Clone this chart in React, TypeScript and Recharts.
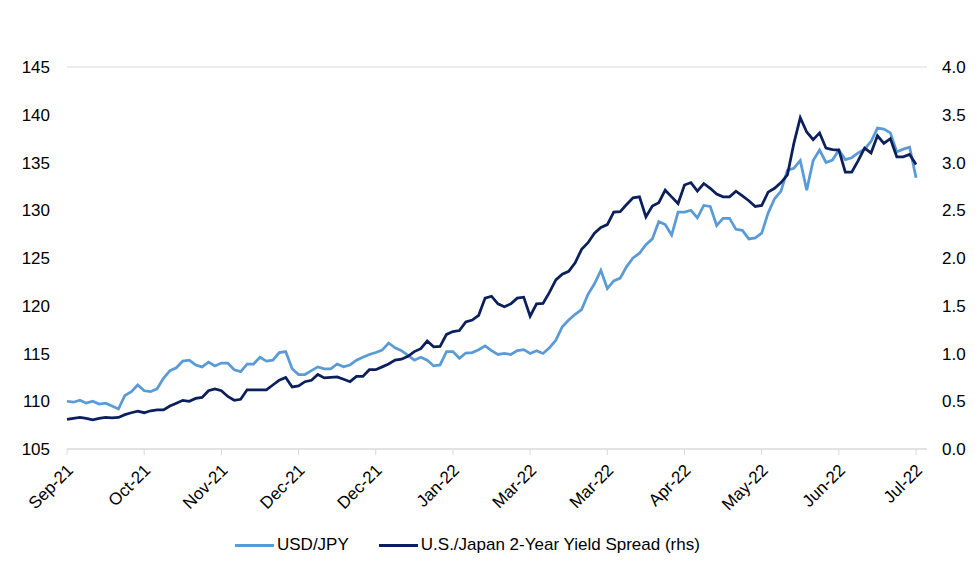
import React from "react";
import { LineChart, Line, XAxis, YAxis, CartesianGrid } from "recharts";

// x tick labels, one every 12 points
const monthLabels = [
  "Sep-21", "Oct-21", "Nov-21", "Dec-21", "Dec-21", "Jan-22",
  "Mar-22", "Mar-22", "Apr-22", "May-22", "Jun-22", "Jul-22",
];

// USD/JPY, lhs
const usdJpy = [
  110.0, 109.9, 110.1, 109.8, 110.0, 109.7, 109.8, 109.5, 109.2, 110.6,
  111.0, 111.7, 111.1, 111.0, 111.3, 112.4, 113.2, 113.5, 114.2, 114.3,
  113.8, 113.6, 114.1, 113.7, 114.0, 114.0, 113.3, 113.1, 113.9, 113.9,
  114.6, 114.2, 114.3, 115.1, 115.2, 113.4, 112.8, 112.8, 113.2, 113.6,
  113.4, 113.4, 113.9, 113.6, 113.8, 114.3, 114.6, 114.9, 115.1, 115.35,
  116.1, 115.6, 115.3, 114.8, 114.3, 114.6, 114.3, 113.7, 113.8, 115.2,
  115.2, 114.5, 115.05, 115.1, 115.4, 115.8, 115.3, 114.9, 115.0, 114.9,
  115.3, 115.4, 115.0, 115.3, 115.0, 115.6, 116.4, 117.8, 118.5, 119.1,
  119.6, 121.2, 122.3, 123.7, 121.8, 122.6, 122.9, 124.1, 125.0, 125.5,
  126.4, 127.0, 128.8, 128.5, 127.4, 129.8, 129.8, 130.0, 129.2, 130.5,
  130.4, 128.4, 129.15, 129.15, 128.0, 127.9, 127.0, 127.1, 127.6, 129.7,
  131.2, 132.0, 134.2, 134.4, 135.2, 132.1, 135.2, 136.3, 135.0, 135.25,
  136.3, 135.3, 135.5, 136.0, 136.4, 137.2, 138.6, 138.5, 138.1, 136.1,
  136.4, 136.6, 133.4,
];

// U.S./Japan 2-year yield spread, rhs
const yieldSpread = [
  0.31, 0.32, 0.33, 0.32, 0.305, 0.32, 0.33, 0.325, 0.33, 0.36,
  0.38, 0.395, 0.38, 0.4, 0.41, 0.41, 0.45, 0.48, 0.51, 0.5,
  0.53, 0.54, 0.61, 0.63, 0.61, 0.55, 0.51, 0.52, 0.62, 0.62,
  0.62, 0.62, 0.67, 0.72, 0.75, 0.65, 0.66, 0.705, 0.72, 0.78,
  0.745, 0.75, 0.755, 0.73, 0.705, 0.76, 0.76, 0.83, 0.83, 0.86,
  0.89, 0.93, 0.94, 0.97, 1.02, 1.05, 1.13, 1.07, 1.075, 1.2,
  1.23, 1.24, 1.33, 1.35, 1.4, 1.58, 1.6, 1.52, 1.49, 1.52,
  1.58, 1.59, 1.39, 1.52, 1.525, 1.64, 1.77, 1.83, 1.86, 1.95,
  2.09, 2.16, 2.26, 2.32, 2.35, 2.48, 2.485, 2.56, 2.63, 2.64,
  2.43, 2.545, 2.58, 2.71, 2.64, 2.57, 2.765, 2.79, 2.7, 2.78,
  2.73, 2.67, 2.64, 2.64, 2.7, 2.65, 2.6, 2.54, 2.55, 2.69,
  2.73, 2.79, 2.87, 3.2, 3.47, 3.32, 3.24, 3.31, 3.15, 3.135,
  3.13, 2.9, 2.9, 3.02, 3.15, 3.1, 3.28, 3.2, 3.25, 3.06,
  3.06, 3.085, 2.98,
];

const leftTicks = [105, 110, 115, 120, 125, 130, 135, 140, 145];
const rightTicks = [0, 0.5, 1, 1.5, 2, 2.5, 3, 3.5, 4];

const LIGHT = "#5b9bd5";
const DARK = "#0b1f5c";
const FONT = "'Liberation Sans', Arial, sans-serif";

const data = usdJpy.map((v, i) => ({ i, usd: v, spread: yieldSpread[i] }));
const xTicks = monthLabels.map((_, k) => k * 12);

function XTick({ x, y, payload }: any) {
  const ax = x + 3;
  const ay = y + 10;
  return (
    <text
      x={ax}
      y={ay}
      transform={`rotate(-45 ${ax} ${ay})`}
      textAnchor="end"
      dy="0.35em"
      fontSize={17}
      fontFamily={FONT}
      fill="#000"
    >
      {monthLabels[Math.round(payload.value / 12)]}
    </text>
  );
}

function LegendItem({ color, label }: { color: string; label: string }) {
  return (
    <div style={{ display: "flex", alignItems: "center" }}>
      <div style={{ width: 39, height: 3, background: color, marginRight: 3 }} />
      <span>{label}</span>
    </div>
  );
}

export default function App() {
  return (
    <div
      style={{
        position: "absolute",
        left: 0,
        top: 0,
        width: 980,
        height: 574,
        background: "#fff",
        fontFamily: FONT,
      }}
    >
      <LineChart
        width={980}
        height={574}
        data={data}
        margin={{ top: 67, right: 0, bottom: 65, left: 0 }}
      >
        <CartesianGrid vertical={false} stroke="#d9d9d9" />
        <XAxis
          dataKey="i"
          type="number"
          domain={[0, 133.7]}
          ticks={xTicks}
          interval={0}
          height={60}
          stroke="#d9d9d9"
          tickSize={6}
          tick={<XTick />}
        />
        <YAxis
          yAxisId="left"
          domain={[105, 145]}
          ticks={leftTicks}
          width={67}
          axisLine={false}
          tickLine={false}
          tickSize={0}
          tickMargin={17}
          tick={{ fontSize: 17, fill: "#000", fontFamily: FONT }}
        />
        <YAxis
          yAxisId="right"
          orientation="right"
          domain={[0, 4]}
          ticks={rightTicks}
          width={53}
          axisLine={false}
          tickLine={false}
          tickSize={0}
          tickMargin={15}
          tickFormatter={(v: number) => v.toFixed(1)}
          tick={{ fontSize: 17, fill: "#000", fontFamily: FONT }}
        />
        <Line
          yAxisId="left"
          dataKey="usd"
          stroke={LIGHT}
          strokeWidth={2.75}
          dot={false}
          type="linear"
          isAnimationActive={false}
        />
        <Line
          yAxisId="right"
          dataKey="spread"
          stroke={DARK}
          strokeWidth={2.75}
          dot={false}
          type="linear"
          isAnimationActive={false}
        />
      </LineChart>
      <div
        style={{
          position: "absolute",
          left: 235,
          top: 535,
          display: "flex",
          gap: 30,
          fontSize: 17,
          color: "#000",
          lineHeight: "20px",
        }}
      >
        <LegendItem color={LIGHT} label="USD/JPY" />
        <LegendItem color={DARK} label="U.S./Japan 2-Year Yield Spread (rhs)" />
      </div>
    </div>
  );
}
